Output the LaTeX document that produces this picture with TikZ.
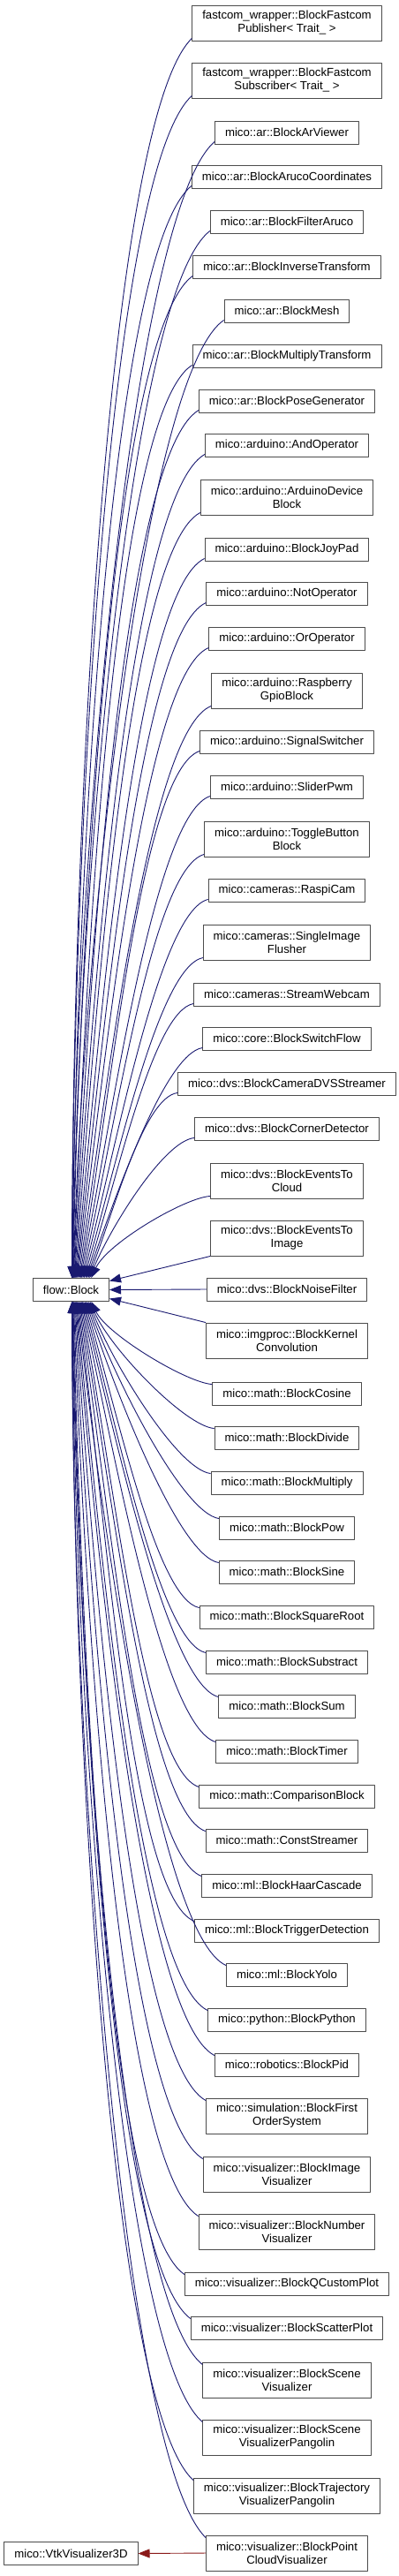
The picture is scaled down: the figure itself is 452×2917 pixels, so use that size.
\documentclass[tikz,border=0pt]{standalone}
\usepackage{fontspec}
\setsansfont{Liberation Sans}
\usetikzlibrary{arrows.meta, calc}

\definecolor{edgeblue}{RGB}{25,25,112}
\definecolor{edgered}{RGB}{139,26,26}
\tikzset{
  cls/.style={draw=black!70, fill=white, line width=0.9pt, inner xsep=11.5pt, inner ysep=0pt,
    align=center, font=\sffamily\fontsize{13.2}{15}\selectfont},
  inh/.style={->, edgeblue, line width=0.9pt},
  usg/.style={->, edgered, line width=0.9pt},
}

\begin{document}
\begin{tikzpicture}[x=1pt, y=-1pt, >={Triangle[length=13pt,width=10pt]}, line join=round]
    \useasboundingbox (0,0) rectangle (452,2917);

    \node[cls, minimum height=26] (blk) at (80.5,1460.5) {flow::Block};
    \node[cls, minimum height=26] (vtk) at (80.5,2891.5) {mico::VtkVisualizer3D};

    % 子类
    \foreach \n/\y/\h/\t in {
      pub/26/40/{fastcom\_wrapper::BlockFastcom\\Publisher< Trait\_ >},
      sub/91/40/{fastcom\_wrapper::BlockFastcom\\Subscriber< Trait\_ >},
      arview/150/26/{mico::ar::BlockArViewer},
      aruco/200/26/{mico::ar::BlockArucoCoordinates},
      filtaruco/251/26/{mico::ar::BlockFilterAruco},
      invtf/302/26/{mico::ar::BlockInverseTransform},
      mesh/352/26/{mico::ar::BlockMesh},
      multf/403/26/{mico::ar::BlockMultiplyTransform},
      posegen/454/26/{mico::ar::BlockPoseGenerator},
      andop/504/26/{mico::arduino::AndOperator},
      ardev/563/40/{mico::arduino::ArduinoDevice\\Block},
      joypad/622/26/{mico::arduino::BlockJoyPad},
      notop/672/26/{mico::arduino::NotOperator},
      orop/723/26/{mico::arduino::OrOperator},
      rpigpio/782/40/{mico::arduino::Raspberry\\GpioBlock},
      sigsw/840/26/{mico::arduino::SignalSwitcher},
      slider/891/26/{mico::arduino::SliderPwm},
      toggle/950/40/{mico::arduino::ToggleButton\\Block},
      raspicam/1008/26/{mico::cameras::RaspiCam},
      singleimg/1067/40/{mico::cameras::SingleImage\\Flusher},
      webcam/1126/26/{mico::cameras::StreamWebcam},
      switchflow/1176/26/{mico::core::BlockSwitchFlow},
      dvsstream/1227/26/{mico::dvs::BlockCameraDVSStreamer},
      corner/1278/26/{mico::dvs::BlockCornerDetector},
      evcloud/1337/40/{mico::dvs::BlockEventsTo\\Cloud},
      evimage/1402/40/{mico::dvs::BlockEventsTo\\Image},
      noise/1460/26/{mico::dvs::BlockNoiseFilter},
      kernel/1518/40/{mico::imgproc::BlockKernel\\Convolution},
      cosine/1578/26/{mico::math::BlockCosine},
      divide/1628/26/{mico::math::BlockDivide},
      multiply/1679/26/{mico::math::BlockMultiply},
      pow/1730/26/{mico::math::BlockPow},
      sine/1780/26/{mico::math::BlockSine},
      sqroot/1831/26/{mico::math::BlockSquareRoot},
      subs/1882/26/{mico::math::BlockSubstract},
      sum/1932/26/{mico::math::BlockSum},
      timer/1983/26/{mico::math::BlockTimer},
      compar/2034/26/{mico::math::ComparisonBlock},
      conststr/2084/26/{mico::math::ConstStreamer},
      haar/2135/26/{mico::ml::BlockHaarCascade},
      trigger/2186/26/{mico::ml::BlockTriggerDetection},
      yolo/2236/26/{mico::ml::BlockYolo},
      python/2287/26/{mico::python::BlockPython},
      pid/2338/26/{mico::robotics::BlockPid},
      firstord/2396/40/{mico::simulation::BlockFirst\\OrderSystem},
      imgvis/2462/40/{mico::visualizer::BlockImage\\Visualizer},
      numvis/2527/40/{mico::visualizer::BlockNumber\\Visualizer},
      qcp/2586/26/{mico::visualizer::BlockQCustomPlot},
      scatter/2636/26/{mico::visualizer::BlockScatterPlot},
      scenevis/2695/40/{mico::visualizer::BlockScene\\Visualizer},
      scenepang/2760/40/{mico::visualizer::BlockScene\\VisualizerPangolin},
      trajpang/2826/40/{mico::visualizer::BlockTrajectory\\VisualizerPangolin},
      pcvis/2891/40/{mico::visualizer::BlockPoint\\CloudVisualizer}}
      \node[cls, minimum height=\h] (\n) at (325,\y) {\t};

    % 上方的继承线
    \foreach \n/\y in {pub/26, sub/91, arview/150, aruco/200, filtaruco/251, invtf/302,
      mesh/352, multf/403, posegen/454, andop/504, ardev/563, joypad/622, notop/672,
      orop/723, rpigpio/782, sigsw/840, slider/891, toggle/950, raspicam/1008,
      singleimg/1067, webcam/1126, switchflow/1176, dvsstream/1227, corner/1278, evcloud/1337}{
      \pgfmathsetmacro{\fd}{(1460.5-\y)/1450}
      \pgfmathsetmacro{\gd}{(1-\fd)^2}
      \pgfmathsetmacro{\ao}{180+45*\fd}
      \pgfmathsetmacro{\ai}{90-30*\gd}
      \pgfmathsetmacro{\dout}{20+116*\fd}
      \pgfmathsetmacro{\din}{507*\fd}
      \pgfmathsetmacro{\dx}{1+26*\gd}
      \coordinate (s) at ([yshift=3pt]\n.south west);
      \coordinate (e) at ([xshift=\dx pt]blk.north);
      \draw[inh] (s) .. controls ($(s)+(\ao:\dout pt)$) and ($(e)+(\ai:\din pt)$) .. (e);
    }

    % 下方的继承线
    \foreach \n/\y in {cosine/1578, divide/1628, multiply/1679, pow/1730, sine/1780,
      sqroot/1831, subs/1882, sum/1932, timer/1983, compar/2034, conststr/2084, haar/2135,
      trigger/2186, yolo/2236, python/2287, pid/2338, firstord/2396, imgvis/2462,
      numvis/2527, qcp/2586, scatter/2636, scenevis/2695, scenepang/2760, trajpang/2826, pcvis/2891}{
      \pgfmathsetmacro{\fd}{(\y-1460.5)/1450}
      \pgfmathsetmacro{\gd}{(1-\fd)^2}
      \pgfmathsetmacro{\ao}{180-45*\fd}
      \pgfmathsetmacro{\ai}{-90+30*\gd}
      \pgfmathsetmacro{\dout}{20+116*\fd}
      \pgfmathsetmacro{\din}{507*\fd}
      \pgfmathsetmacro{\dx}{1+26*\gd}
      \coordinate (s) at ([yshift=-3pt]\n.north west);
      \coordinate (e) at ([xshift=\dx pt]blk.south);
      \draw[inh] (s) .. controls ($(s)+(\ao:\dout pt)$) and ($(e)+(\ai:\din pt)$) .. (e);
    }

    \draw[inh] (evimage.south west) -- ([yshift=10pt]blk.east);
    \draw[inh] (noise.west) -- (blk.east);
    \draw[inh] (kernel.north west) -- ([yshift=-10pt]blk.east);

    \draw[usg] (pcvis.west) -- (vtk.east);
\end{tikzpicture}
\end{document}
